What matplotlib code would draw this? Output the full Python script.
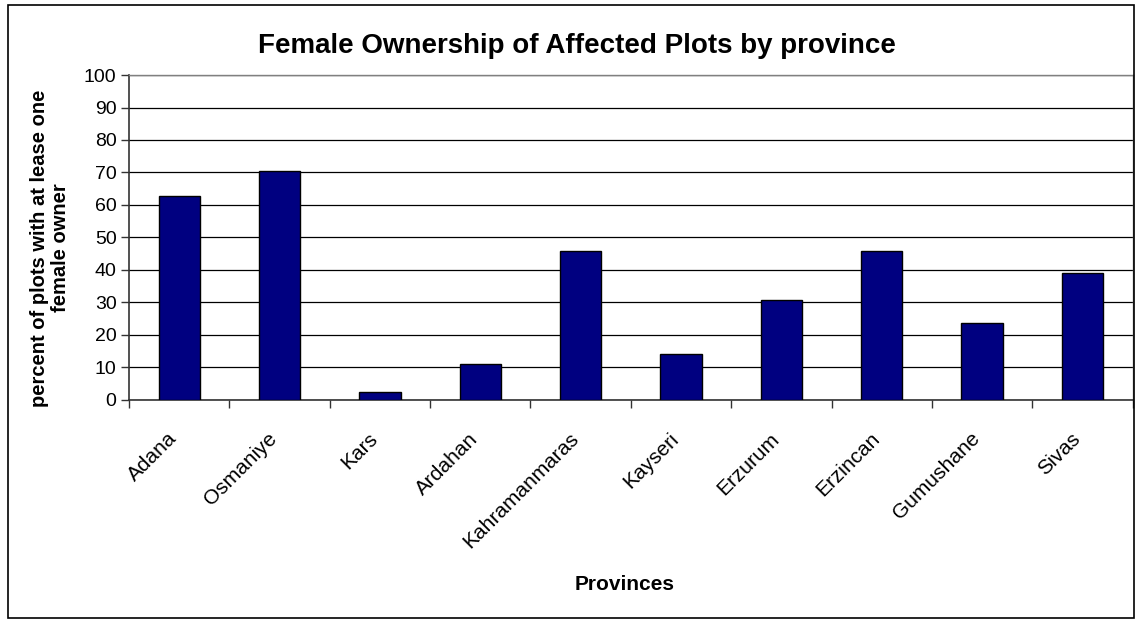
import numpy as np
import matplotlib.pyplot as plt
from matplotlib.patches import Rectangle
from matplotlib.transforms import ScaledTranslation

plt.rcParams['font.family'] = ['Liberation Sans', 'DejaVu Sans']

# data
provinces = ['Adana', 'Osmaniye', 'Kars', 'Ardahan', 'Kahramanmaras',
             'Kayseri', 'Erzurum', 'Erzincan', 'Gumushane', 'Sivas']
pct_female = [62.7, 70.6, 2.3, 11.1, 45.8, 14.2, 30.6, 45.8, 23.8, 39.2]
yticks = list(range(0, 101, 10))

fig = plt.figure(figsize=(11.36, 6.20), dpi=100)
ax = fig.add_axes([0.1136, 0.355, 0.8834, 0.524])

x = np.arange(len(provinces))
ax.bar(x, pct_female, width=0.41, color='#000080', edgecolor='black', linewidth=1, zorder=3)

ax.set_xlim(-0.5, len(provinces) - 0.5)
ax.set_ylim(0, 100)
ax.set_yticks(yticks)
ax.yaxis.grid(True, color='black', linewidth=0.9, zorder=0)

# category labels at the centres, tick marks between categories (Excel style)
ax.set_xticks(x)
ax.set_xticklabels(provinces, rotation=45, ha='right', rotation_mode='anchor', fontsize=15)
ax.tick_params(axis='x', which='major', length=0, pad=21)
ax.set_xticks(np.arange(-0.5, len(provinces)), minor=True)
ax.tick_params(axis='x', which='minor', length=6, width=1, color='#333333')
ax.tick_params(axis='y', length=6, width=1, color='#333333', labelsize=14, pad=3)

# nudge the rotated labels a bit left, like the original
shift = ScaledTranslation(-12 / 100, 0, fig.dpi_scale_trans)
for lbl in ax.get_xticklabels():
    lbl.set_transform(lbl.get_transform() + shift)

for side in ['left', 'bottom']:
    ax.spines[side].set_color('#333333')
    ax.spines[side].set_linewidth(1.2)
for side in ['top', 'right']:
    ax.spines[side].set_color('#808080')
    ax.spines[side].set_linewidth(1)

fig.text(0.508, 0.926, 'Female Ownership of Affected Plots by province',
         ha='center', va='center', fontsize=20, fontweight='bold')
fig.text(0.044, 0.6, 'percent of plots with at lease one\nfemale owner', rotation=90,
         ha='center', va='center', multialignment='center', fontsize=14.5, fontweight='bold',
         linespacing=1.15)
fig.text(0.55, 0.058, 'Provinces', ha='center', va='center', fontsize=15, fontweight='bold')

# outer chart border
fig.patches.append(Rectangle((0.007, 0.003), 0.991, 0.989, transform=fig.transFigure,
                             fill=False, edgecolor='black', linewidth=1.2))

fig.savefig('out.png', dpi=100)
